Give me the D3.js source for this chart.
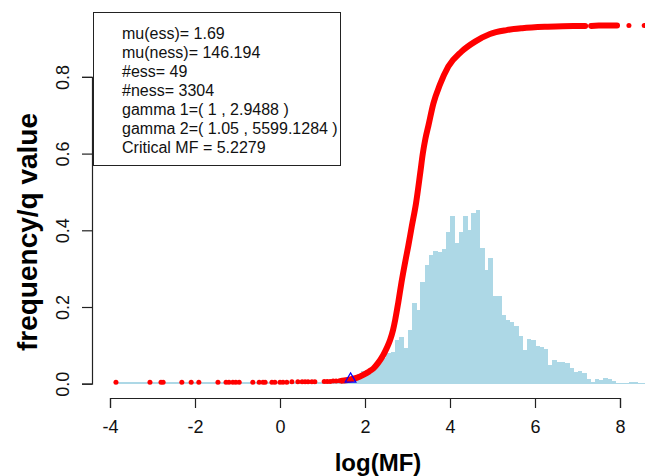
<!DOCTYPE html>
<html>
<head>
<meta charset="utf-8">
<script src="https://cdn.jsdelivr.net/npm/d3@7"></script>
<style>
  body { margin: 0; background: #fff; }
  svg { display: block; font-family: "Liberation Sans", Arial, Helvetica, sans-serif; }
</style>
</head>
<body>
<script>
'use strict';

// histogram: bins of width 0.1 starting at -3.9
const binWidth = 0.1;
const binFirst = -3.9;
const binFreq = [
  0.004, 0.004, 0.004, 0.004, 0.004, 0.004, 0.004, 0.004, 0.004, 0.004,
  0.004, 0.004, 0.004, 0.004, 0.004, 0.004, 0.004, 0.004, 0.004, 0.004,
  0.004, 0.004, 0.004, 0.004, 0.004, 0.004, 0.004, 0.004, 0.004, 0.004,
  0.004, 0.004, 0.004, 0.004, 0.004, 0.004, 0.004, 0.004, 0.004, 0.004,
  0.004, 0.004, 0.004, 0.004, 0.004, 0.004, 0.004, 0.004, 0.004, 0.004,
  0.004, 0.004, 0.004,
  0.005, 0.008, 0.012, 0.018, 0.025, 0.032, 0.036, 0.042, 0.050, 0.057,
  0.068, 0.080, 0.083, 0.114, 0.123, 0.092, 0.140, 0.210, 0.192, 0.266,
  0.310, 0.336, 0.347, 0.344, 0.350, 0.396, 0.438, 0.366, 0.396, 0.438,
  0.401, 0.444, 0.453, 0.353, 0.296, 0.327, 0.229, 0.229, 0.179, 0.166,
  0.162, 0.150, 0.124, 0.088, 0.116, 0.114, 0.098, 0.096, 0.090, 0.049,
  0.062, 0.057, 0.057, 0.055, 0.040, 0.031, 0.034, 0.027, 0.012, 0.005,
  0.013, 0.010, 0.014, 0.011, 0.007, 0.003, 0.003, 0.003, 0.004, 0.004,
  0.002, 0.002, 0.002
];

// sparse red points on the left (log MF, q value)
const sparseX = [-3.86, -3.06, -2.80, -2.75, -2.31, -2.09, -1.91, -1.46, -1.27, -1.20,
  -1.11, -1.04, -0.96, -0.64, -0.49, -0.40, -0.35, -0.19, -0.12, 0.00,
  0.07, 0.16, 0.28, 0.42, 0.52, 0.59, 0.66, 0.75, 0.82, 1.04,
  1.11, 1.18, 1.25, 1.32, 1.40, 1.46];
const sparseY = [0.004, 0.004, 0.004, 0.004, 0.004, 0.004, 0.004, 0.004, 0.004, 0.004,
  0.004, 0.004, 0.004, 0.004, 0.004, 0.004, 0.004, 0.004, 0.004, 0.004,
  0.004, 0.004, 0.005, 0.005, 0.005, 0.005, 0.005, 0.005, 0.005, 0.006,
  0.006, 0.006, 0.007, 0.007, 0.008, 0.008];

// dense part of the red curve
const curveX = [1.46, 1.55, 1.65, 1.80, 1.96, 2.10, 2.20, 2.30, 2.43, 2.52, 2.59, 2.66, 2.71,
  2.78, 2.86, 2.95, 3.02, 3.10, 3.20, 3.30, 3.36, 3.42, 3.49, 3.61, 3.76, 3.96,
  4.27, 4.59, 4.94, 5.33, 5.70, 6.30, 6.90, 7.18];
const curveY = [0.008, 0.009, 0.011, 0.015, 0.023, 0.032, 0.040, 0.053, 0.075, 0.095, 0.114, 0.140, 0.166,
  0.210, 0.265, 0.320, 0.360, 0.410, 0.470, 0.550, 0.600, 0.638, 0.672, 0.731, 0.779, 0.827,
  0.866, 0.892, 0.912, 0.922, 0.927, 0.931, 0.933, 0.933];
const tailX = [7.32, 7.50, 7.70, 7.93];
const tailY = [0.933, 0.934, 0.934, 0.934];
const tailDotX = [8.21, 8.57];
const tailDotY = [0.934, 0.934];

// ess mean marker
const essMark = [{ x: 1.66, y: 0.012 }];

const xTicks = [-4, -2, 0, 2, 4, 6, 8];
const yTicks = [0.0, 0.2, 0.4, 0.6, 0.8];

const legendLines = [
  'mu(ess)= 1.69',
  'mu(ness)= 146.194',
  '#ess= 49',
  '#ness= 3304',
  'gamma 1=( 1 , 2.9488 )',
  'gamma 2=( 1.05 , 5599.1284 )',
  'Critical MF = 5.2279'
];

const W = 645, H = 476;
const svg = d3.select('body').append('svg').attr('width', W).attr('height', H);

const x = d3.scaleLinear().domain([-4, 8]).range([110, 620]);
const y = d3.scaleLinear().domain([0, 0.8]).range([383.7, 76.9]);

// histogram bars
const bins = binFreq.map((f, i) => ({ x0: binFirst + i * binWidth, f: f }));
svg.append('g')
  .attr('shape-rendering', 'crispEdges')
  .selectAll('rect')
  .data(bins)
  .enter().append('rect')
  .attr('x', d => x(d.x0))
  .attr('width', d => x(d.x0 + binWidth) - x(d.x0) + 0.6)
  .attr('y', d => y(d.f))
  .attr('height', d => y(0) - y(d.f))
  .attr('fill', '#add8e6');

// red points / curve
const line = d3.line().x(d => x(d[0])).y(d => y(d[1])).curve(d3.curveMonotoneX);
[[curveX, curveY], [tailX, tailY]].forEach(([xs, ys]) => {
  svg.append('path')
    .datum(xs.map((v, i) => [v, ys[i]]))
    .attr('d', line)
    .attr('fill', 'none')
    .attr('stroke', '#ff0000')
    .attr('stroke-width', 6)
    .attr('stroke-linecap', 'round')
    .attr('stroke-linejoin', 'round');
});

const dots = sparseX.map((v, i) => [v, sparseY[i]])
  .concat(tailDotX.map((v, i) => [v, tailDotY[i]]));
svg.append('g')
  .selectAll('circle')
  .data(dots)
  .enter().append('circle')
  .attr('cx', d => x(d[0]))
  .attr('cy', d => y(d[1]))
  .attr('r', 2.5)
  .attr('fill', '#ff0000');

svg.append('g')
  .selectAll('path')
  .data(essMark)
  .enter().append('path')
  .attr('transform', d => `translate(${x(d.x)},${y(d.y)})`)
  .attr('d', d3.symbol().type(d3.symbolTriangle).size(50))
  .attr('fill', 'none')
  .attr('stroke', '#0000ff')
  .attr('stroke-width', 1.2);

// axes
const xAxis = svg.append('g')
  .attr('transform', 'translate(0,398)')
  .call(d3.axisBottom(x).tickValues(xTicks).tickSize(10).tickPadding(6).tickFormat(d => String(d)));
const yAxis = svg.append('g')
  .attr('transform', 'translate(92,0)')
  .call(d3.axisLeft(y).tickValues(yTicks).tickSize(10).tickFormat(d3.format('.1f')));

[xAxis, yAxis].forEach(g => {
  g.select('.domain').attr('stroke', '#222').attr('stroke-width', 1.2);
  g.selectAll('.tick line').attr('stroke', '#222').attr('stroke-width', 1.2);
  g.selectAll('.tick text').attr('fill', '#111').style('font-size', '18px').attr('font-family', null);
});
xAxis.selectAll('.tick text').attr('dy', '1.05em');
yAxis.selectAll('.tick text')
  .attr('text-anchor', 'middle')
  .attr('transform', 'rotate(-90)')
  .attr('x', 0)
  .attr('dy', 0)
  .attr('y', -23);

svg.append('text')
  .attr('x', 378).attr('y', 471)
  .attr('text-anchor', 'middle')
  .style('font-size', '24px').style('font-weight', 'bold')
  .text('log(MF)');

svg.append('text')
  .attr('transform', 'translate(37,232) rotate(-90)')
  .attr('text-anchor', 'middle')
  .style('font-size', '28px').style('font-weight', 'bold')
  .text('frequency/q value');

// legend box
const lg = svg.append('g');
lg.append('rect')
  .attr('x', 93.5).attr('y', 12.5)
  .attr('width', 247).attr('height', 153)
  .attr('fill', '#fff')
  .attr('stroke', '#222').attr('stroke-width', 1);
lg.selectAll('text')
  .data(legendLines)
  .enter().append('text')
  .attr('x', 122)
  .attr('y', (d, i) => 39 + i * 19)
  .style('font-size', '16px')
  .attr('fill', '#111')
  .text(d => d);
</script>
</body>
</html>
